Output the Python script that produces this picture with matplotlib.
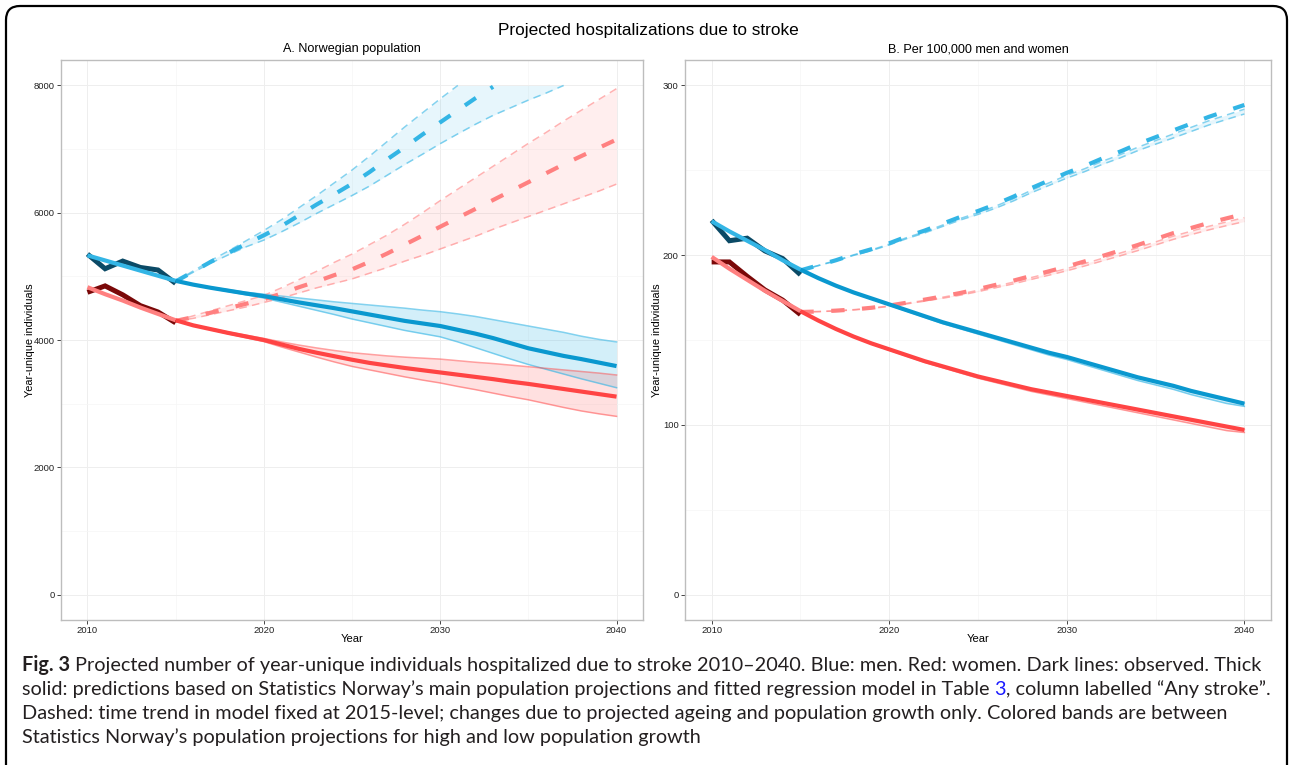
import numpy as np
import matplotlib
matplotlib.use("Agg")
import matplotlib.pyplot as plt
from matplotlib.patches import FancyBboxPatch
from matplotlib.transforms import IdentityTransform
from matplotlib.ticker import MultipleLocator

# ------------------------------------------------------------------ data
years_obs = list(range(2010, 2016))
years_fit = list(range(2010, 2041))
years_proj = list(range(2015, 2041))
NA = np.nan

# Panel A: Norwegian population (counts)
a_men_obs = [5350, 5120, 5240, 5140, 5100, 4890]
a_women_obs = [4750, 4850, 4710, 4540, 4440, 4270]
a_men_fit = [5330, 5250, 5170, 5090, 5010, 4930, 4870, 4820, 4775, 4730, 4690,
             4640, 4590, 4545, 4500, 4450, 4400, 4350, 4300, 4260, 4220,
             4160, 4100, 4030, 3950, 3870, 3810, 3750, 3700, 3645, 3590]
a_men_fit_hi = [4930, 4875, 4830, 4790, 4750, 4720, 4690, 4660, 4630, 4600, 4575, 4550, 4525,
                4500, 4470, 4445, 4410, 4370, 4320, 4270, 4220, 4170, 4120, 4060, 4010, 3970]
a_men_fit_lo = [4930, 4865, 4810, 4760, 4710, 4660, 4595, 4530, 4465, 4400, 4330, 4270, 4210,
                4150, 4100, 4050, 3970, 3880, 3790, 3700, 3615, 3540, 3465, 3390, 3320, 3250]
a_women_fit = [4830, 4720, 4620, 4510, 4410, 4310, 4230, 4170, 4110, 4055, 4000,
               3930, 3860, 3800, 3745, 3690, 3640, 3600, 3560, 3525, 3490,
               3455, 3420, 3385, 3345, 3310, 3270, 3230, 3190, 3150, 3110]
a_women_fit_hi = [4310, 4235, 4180, 4125, 4075, 4025, 3970, 3920, 3875, 3835, 3800, 3775, 3750,
                  3730, 3715, 3700, 3675, 3650, 3630, 3605, 3580, 3555, 3530, 3505, 3480, 3450]
a_women_fit_lo = [4310, 4225, 4160, 4095, 4035, 3975, 3890, 3810, 3730, 3655, 3585, 3530, 3475,
                  3420, 3370, 3325, 3270, 3220, 3165, 3110, 3060, 3000, 2940, 2885, 2840, 2800]
# dashed: time trend fixed at 2015 level (NaN = beyond the 8000 axis limit)
a_men_dash = [4920, 5075, 5230, 5370, 5510, 5645, 5790, 5960, 6130, 6290, 6455, 6640, 6840,
              7030, 7230, 7420, 7610, 7800, 7980, NA, NA, NA, NA, NA, NA, NA]
a_men_dash_hi = [4920, 5085, 5250, 5400, 5560, 5720, 5890, 6080, 6270, 6470, 6670, 6890, 7120,
                 7350, 7570, 7790, 8000, NA, NA, NA, NA, NA, NA, NA, NA, NA]
a_men_dash_lo = [4920, 5065, 5210, 5340, 5465, 5570, 5700, 5840, 5990, 6130, 6270, 6420, 6590,
                 6760, 6920, 7085, 7240, 7390, 7530, 7650, 7770, 7880, 8000, NA, NA, NA]
a_women_dash = [4300, 4360, 4430, 4500, 4570, 4640, 4730, 4830, 4920, 5020, 5110, 5230, 5360,
                5500, 5640, 5780, 5920, 6060, 6200, 6340, 6480, 6620, 6760, 6890, 7020, 7150]
a_women_dash_hi = [4300, 4380, 4460, 4540, 4620, 4700, 4820, 4950, 5080, 5220, 5350, 5500, 5650,
                   5820, 6000, 6190, 6370, 6550, 6730, 6910, 7090, 7260, 7440, 7610, 7780, 7950]
a_women_dash_lo = [4300, 4340, 4400, 4460, 4520, 4590, 4660, 4740, 4820, 4890, 4960, 5050, 5140,
                   5240, 5330, 5430, 5530, 5630, 5740, 5840, 5940, 6040, 6140, 6240, 6340, 6450]

# Panel B: per 100,000 men and women
b_men_obs = [220.5, 208.5, 210, 202.5, 198, 188.5]
b_women_obs = [196, 196, 187.5, 179.5, 173.5, 165]
b_men_fit = [220, 214, 208.5, 203, 197, 191.5, 186.5, 182, 178, 174.5, 171,
             167.5, 164, 160.5, 157.5, 154.5, 151.5, 148.5, 145.5, 142.5, 140,
             137, 134, 131, 128, 125.5, 123, 120, 117.5, 115, 112.5]
b_men_fit_hi = [191.5, 186.5, 182, 178, 174.5, 171, 167.5, 164, 160.5, 157.5, 154.5, 151.5, 148.5,
                145.5, 142.5, 140, 137, 134, 131, 128, 125.5, 123, 120, 117.5, 115, 112.7]
b_men_fit_lo = [191.5, 186.4, 181.8, 177.7, 174.1, 170.5, 166.9, 163.3, 159.7, 156.6, 153.5, 150.4,
                147.3, 144.2, 141.1, 138.5, 135.4, 132.3, 129.2, 126.1, 123.5, 120.9, 117.8, 115.2,
                112.6, 110.9]
b_women_fit = [199, 192, 185.5, 179, 173, 167, 161.5, 156.5, 152, 148, 144.5,
               141, 137.5, 134.5, 131.5, 128.5, 126, 123.5, 121, 119, 117,
               115, 113, 111, 109, 107, 105, 103, 101, 99, 97]
b_women_fit_hi = [167, 161.5, 156.5, 152, 148, 144.5, 141, 137.5, 134.5, 131.5, 128.5, 126, 123.5,
                  121, 119, 117, 115, 113, 111, 109, 107, 105, 103, 101, 99, 97.2]
b_women_fit_lo = [167, 161.4, 156.3, 151.7, 147.6, 144, 140.4, 136.8, 133.7, 130.6, 127.5, 124.9,
                  122.3, 119.7, 117.6, 115.5, 113.4, 111.3, 109.2, 107.1, 105, 102.9, 100.8, 98.7,
                  96.6, 95.5]
b_men_dash = [191, 194, 197, 200.5, 203.5, 207, 211, 214.5, 218.5, 222.5, 226, 230, 234.5,
              239.5, 244, 248.5, 252.5, 257, 261, 265.5, 269.5, 273.5, 277.5, 281.5, 285, 288.5]
b_men_dash_hi = [191, 193.9, 196.8, 200.2, 203.1, 206.5, 210.4, 213.8, 217.7, 221.6, 225, 228.9,
                 233.3, 238.2, 242.6, 247, 250.9, 255.3, 259.2, 263.6, 267.5, 271.4, 275.3, 279.2,
                 282.6, 286]
b_men_dash_lo = [191, 193.8, 196.6, 199.9, 202.7, 206, 209.8, 213.1, 216.9, 220.7, 224, 227.7,
                 232, 236.8, 241.1, 245.4, 249.2, 253.5, 257.3, 261.6, 265.4, 269.1, 272.9, 276.7,
                 280, 283.2]
b_women_dash = [166.5, 166.8, 167.3, 168, 169, 170.3, 172, 173.8, 175.7, 177.7, 180, 182.5, 185,
                187.8, 190.5, 193.3, 196.3, 199.5, 202.7, 206, 209.5, 213, 216, 219, 221.7, 224.3]
b_women_dash_hi = [166.5, 166.8, 167.2, 167.9, 168.8, 170.1, 171.7, 173.4, 175.2, 177.1, 179.3,
                   181.7, 184.1, 186.8, 189.4, 192.1, 195, 198.1, 201.2, 204.4, 207.8, 211.2,
                   214.1, 217, 219.6, 222.1]
b_women_dash_lo = [166.5, 166.7, 167.1, 167.7, 168.6, 169.8, 171.3, 172.9, 174.6, 176.4, 178.5,
                   180.8, 183.1, 185.7, 188.2, 190.8, 193.6, 196.6, 199.6, 202.7, 206, 209.3,
                   212.1, 214.9, 217.4, 219.8]

main_title = "Projected hospitalizations due to stroke"
panel_titles = ["A. Norwegian population", "B. Per 100,000 men and women"]
x_label = "Year"
y_label = "Year-unique individuals"
a_yticks = [0, 2000, 4000, 6000, 8000]
b_yticks = [0, 100, 200, 300]
x_ticks = [2010, 2020, 2030, 2040]

caption_lines = [
    [("Fig. 3", "bold", None),
     (" Projected number of year-unique individuals hospitalized due to stroke 2010\u20132040. "
      "Blue: men. Red: women. Dark lines: observed. Thick", "normal", None)],
    [("solid: predictions based on Statistics Norway\u2019s main population projections and "
      "fitted regression model in Table ", "normal", None),
     ("3", "normal", "#1a1aff"),
     (", column labelled \u201cAny stroke\u201d.", "normal", None)],
    [("Dashed: time trend in model fixed at 2015-level; changes due to projected ageing and "
      "population growth only. Colored bands are between", "normal", None)],
    [("Statistics Norway\u2019s population projections for high and low population growth",
      "normal", None)],
]

# ------------------------------------------------------------------ style
W, H = 1292, 765
CHART_FONT = ["Liberation Sans", "DejaVu Sans"]
CAP_FONT = ["Lato", "Open Sans", "DejaVu Sans"]
BLUE_OBS, RED_OBS = "#0b4a66", "#7a0808"
BLUE_FIT, RED_FIT = "#0a98cf", "#ff4444"
BLUE_LT, RED_LT = "#33b5e5", "#ff8080"

plt.rcParams["font.family"] = CHART_FONT
fig = plt.figure(figsize=(W / 100, H / 100), dpi=100, facecolor="white")


def rect(l, t, r, b):
    return [l / W, 1 - b / H, (r - l) / W, (b - t) / H]


axA = fig.add_axes(rect(61, 60, 643, 620))
axB = fig.add_axes(rect(685, 60, 1271, 620))


def fill_top(hi, lim):
    hi = np.asarray(hi, float)
    if lim is None:
        return hi
    return np.where(np.isnan(hi), lim, np.minimum(hi, lim))


def draw_panel(ax, d, ylim, yticks, yminor, lim=None):
    ax.set_xlim(2008.5, 2041.5)
    ax.set_ylim(*ylim)
    ax.set_xticks(x_ticks)
    ax.set_yticks(yticks)
    ax.xaxis.set_minor_locator(MultipleLocator(5))
    ax.yaxis.set_minor_locator(MultipleLocator(yminor))
    ax.grid(which="major", color="#eeeeee", lw=0.7)
    ax.grid(which="minor", color="#f6f6f6", lw=0.5)
    ax.set_axisbelow(True)
    for sp in ax.spines.values():
        sp.set_color("#bdbdbd")
        sp.set_linewidth(1.0)
    ax.tick_params(which="major", length=3, width=0.7, color="#444444",
                   labelsize=6.8, pad=1.5, labelcolor="#222222")
    ax.tick_params(which="minor", length=0)

    yp = np.array(years_proj)
    for sex, base, lt, fill_a, edge_a in (("men", BLUE_LT, BLUE_LT, 0.21, 0.6),
                                           ("women", RED_FIT, RED_LT, 0.16, 0.5)):
        hi = np.asarray(d[sex + "_fit_hi"], float)
        lo = np.asarray(d[sex + "_fit_lo"], float)
        ax.fill_between(yp, lo, hi, color=base, alpha=fill_a, lw=0, zorder=1)
        ax.plot(yp, hi, color=base, alpha=edge_a, lw=1.1, zorder=2)
        ax.plot(yp, lo, color=base, alpha=edge_a, lw=1.1, zorder=2)
        dhi = np.asarray(d[sex + "_dash_hi"], float)
        dlo = np.asarray(d[sex + "_dash_lo"], float)
        ok = ~np.isnan(dlo)
        ax.fill_between(yp, dlo, fill_top(dhi, lim), where=ok, color=base,
                        alpha=fill_a * 0.55, lw=0, zorder=1, interpolate=False)
        for arr in (dhi, dlo):
            ax.plot(yp, arr, color=lt, alpha=0.6, lw=1.1, dashes=(5, 3.5), zorder=2)

    for sex, col in (("men", BLUE_LT), ("women", RED_LT)):
        ax.plot(yp, d[sex + "_dash"], color=col, lw=3, dashes=(3.2, 4.2),
                dash_capstyle="butt", zorder=3)

    for sex, col in (("men", BLUE_OBS), ("women", RED_OBS)):
        ax.plot(years_obs, d[sex + "_obs"], color=col, lw=3.6, zorder=4,
                solid_joinstyle="miter", solid_capstyle="butt")

    yf = np.array(years_fit)
    for sex, col_in, col_out in (("men", BLUE_LT, BLUE_FIT), ("women", RED_LT, RED_FIT)):
        f = np.asarray(d[sex + "_fit"], float)
        ax.plot(yf[:6], f[:6], color=col_in, lw=3, zorder=5, solid_capstyle="butt")
        ax.plot(yf[5:], f[5:], color=col_out, lw=3, zorder=5, solid_capstyle="butt")


dA = dict(men_obs=a_men_obs, women_obs=a_women_obs,
          men_fit=a_men_fit, men_fit_hi=a_men_fit_hi, men_fit_lo=a_men_fit_lo,
          women_fit=a_women_fit, women_fit_hi=a_women_fit_hi, women_fit_lo=a_women_fit_lo,
          men_dash=a_men_dash, men_dash_hi=a_men_dash_hi, men_dash_lo=a_men_dash_lo,
          women_dash=a_women_dash, women_dash_hi=a_women_dash_hi, women_dash_lo=a_women_dash_lo)
dB = dict(men_obs=b_men_obs, women_obs=b_women_obs,
          men_fit=b_men_fit, men_fit_hi=b_men_fit_hi, men_fit_lo=b_men_fit_lo,
          women_fit=b_women_fit, women_fit_hi=b_women_fit_hi, women_fit_lo=b_women_fit_lo,
          men_dash=b_men_dash, men_dash_hi=b_men_dash_hi, men_dash_lo=b_men_dash_lo,
          women_dash=b_women_dash, women_dash_hi=b_women_dash_hi, women_dash_lo=b_women_dash_lo)

draw_panel(axA, dA, (-400, 8400), a_yticks, 1000, lim=8000)
draw_panel(axB, dB, (-15, 315), b_yticks, 50)

# ------------------------------------------------------------------ texts
fig.text(648 / W, 1 - 31 / H, main_title, ha="center", va="center", fontsize=12.4)
for cx, t in zip((352, 978), panel_titles):
    fig.text(cx / W, 1 - 49 / H, t, ha="center", va="center", fontsize=9.1)
    fig.text(cx / W, 1 - 639 / H, x_label, ha="center", va="center", fontsize=8)
for lx in (30, 657):
    fig.text(lx / W, 1 - 340 / H, y_label, ha="center", va="center",
             rotation=90, fontsize=7.9)

# outer rounded frame
frame = FancyBboxPatch((6, -30), 1281, 789,
                       boxstyle="round,pad=0,rounding_size=14",
                       transform=IdentityTransform(), fill=False,
                       edgecolor="black", lw=1.6)
fig.add_artist(frame)

# caption with mixed styles
renderer = fig.canvas.get_renderer()


def text_w(s, **kw):
    t = fig.text(0, 0, s, **kw)
    w = t.get_window_extent(renderer).width
    t.remove()
    return w


def adv(s, **kw):
    return text_w("|" + s + "|", **kw) - text_w("||", **kw)


def piece_kw(weight, size):
    return dict(fontsize=size, fontweight=weight, family=CAP_FONT)


probe = 10.0
w_max = max(sum(adv(s, **piece_kw(wt, probe)) for s, wt, _ in line)
            for line in caption_lines)
cap_size = probe * 1250 / w_max

CAP_COLOR = "#231f20"
for i, pieces in enumerate(caption_lines):
    x = 22.0
    y = 671 + 24 * i
    for s, wt, col in pieces:
        kw = piece_kw(wt, cap_size)
        lead = len(s) - len(s.lstrip(" "))
        xs = x + (adv(" " * lead, **kw) if lead else 0.0)
        fig.text(xs / W, 1 - y / H, s.strip(" "), color=col or CAP_COLOR,
                 ha="left", va="baseline", **kw)
        x += adv(s, **kw)

fig.savefig("out.png", dpi=100, facecolor="white")
